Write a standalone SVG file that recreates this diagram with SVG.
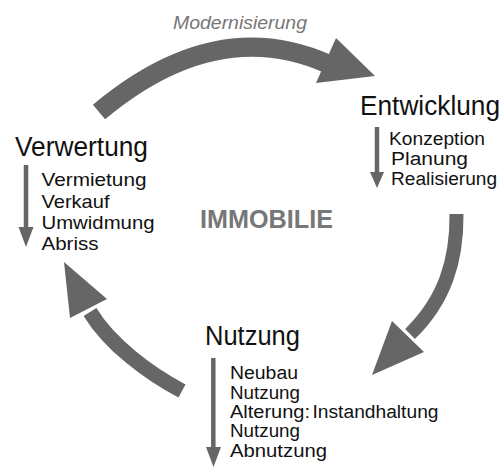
<svg xmlns="http://www.w3.org/2000/svg" width="504" height="471" viewBox="0 0 504 471">
<style>
  .t { font-family: "Liberation Sans", Arial, sans-serif; fill: #111; }
  .title { font-size: 27px; }
  .item { font-size: 19px; }
  .small { font-size: 18px; }
  .body { fill: none; stroke: #666; stroke-linecap: butt; }
  .head { fill: #666; }
  .shaft { stroke: #666; stroke-width: 4.5; }
</style>
<rect width="504" height="471" fill="#fff"/>
<g id="connectors">
  <path class="body" d="M99,112 Q216,14 328,64" stroke-width="19"/>
  <polygon class="head" points="336,38 375,76 316,83"/>
  <path class="body" d="M456.5,214 C457,260 445,300 410,334" stroke-width="14"/>
  <polygon class="head" points="392,321 372,375 424,352"/>
  <path class="body" d="M182,391 C150,374 110,345 90,312" stroke-width="15"/>
  <polygon class="head" points="64,262 107,299 70,318"/>
  <text x="240" y="29" text-anchor="middle" font-family="Liberation Sans, Arial, sans-serif" font-size="18.5" font-style="italic" fill="#777" textLength="134" lengthAdjust="spacingAndGlyphs">Modernisierung</text>
</g>
<g id="center">
  <text x="200" y="228" font-family="Liberation Sans, Arial, sans-serif" font-size="25" font-weight="bold" fill="#777" textLength="133" lengthAdjust="spacingAndGlyphs">IMMOBILIE</text>
</g>
<g id="entwicklung">
  <text class="t title" x="360" y="115" textLength="140" lengthAdjust="spacingAndGlyphs">Entwicklung</text>
  <line class="shaft" x1="377" y1="127" x2="377" y2="173"/>
  <polygon class="head" points="370,172 384,172 377,188"/>
  <text class="t small" x="389" y="145" textLength="96" lengthAdjust="spacingAndGlyphs">Konzeption</text>
  <text class="t small" x="391" y="165" textLength="77" lengthAdjust="spacingAndGlyphs">Planung</text>
  <text class="t small" x="391" y="185" textLength="106" lengthAdjust="spacingAndGlyphs">Realisierung</text>
</g>
<g id="verwertung">
  <text class="t title" x="15" y="156" textLength="133" lengthAdjust="spacingAndGlyphs">Verwertung</text>
  <line class="shaft" x1="26" y1="165" x2="26" y2="228"/>
  <polygon class="head" points="18.5,227 33.5,227 26,247"/>
  <text class="t item" x="41.5" y="186" textLength="105" lengthAdjust="spacingAndGlyphs">Vermietung</text>
  <text class="t item" x="41.5" y="207.5" textLength="68" lengthAdjust="spacingAndGlyphs">Verkauf</text>
  <text class="t item" x="41.5" y="229" textLength="113" lengthAdjust="spacingAndGlyphs">Umwidmung</text>
  <text class="t item" x="41.5" y="250" textLength="57" lengthAdjust="spacingAndGlyphs">Abriss</text>
</g>
<g id="nutzung">
  <text class="t title" x="205" y="345" textLength="95" lengthAdjust="spacingAndGlyphs">Nutzung</text>
  <line class="shaft" x1="213.3" y1="358" x2="213.3" y2="448"/>
  <polygon class="head" points="206,447 221,447 213.5,467"/>
  <text class="t small" x="230" y="379" textLength="68" lengthAdjust="spacingAndGlyphs">Neubau</text>
  <text class="t small" x="230" y="398.5" textLength="70" lengthAdjust="spacingAndGlyphs">Nutzung</text>
  <text class="t small" x="230" y="417.5" textLength="80" lengthAdjust="spacingAndGlyphs">Alterung:</text>
  <text class="t small" x="312.5" y="417.5" textLength="126" lengthAdjust="spacingAndGlyphs">Instandhaltung</text>
  <text class="t small" x="230" y="437" textLength="70" lengthAdjust="spacingAndGlyphs">Nutzung</text>
  <text class="t small" x="230" y="456.5" textLength="97" lengthAdjust="spacingAndGlyphs">Abnutzung</text>
</g>
</svg>
